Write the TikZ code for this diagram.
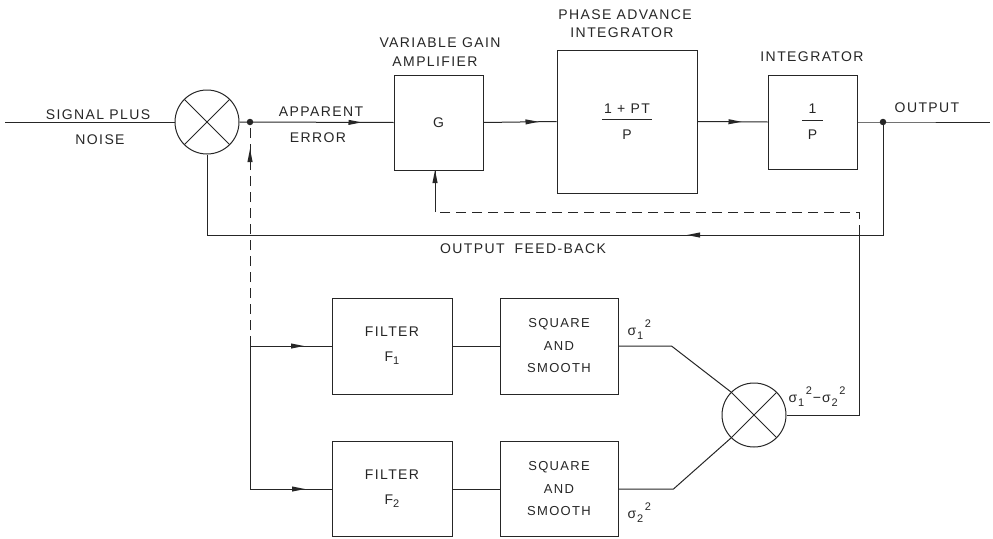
\documentclass[tikz,border=0pt]{standalone}
\usepackage{fontspec}
\setmainfont{Liberation Sans}[LetterSpace=10]
\usetikzlibrary{decorations.markings}
\newcommand\mysig[1]{σ\kern1pt\raisebox{-4pt}{\fontsize{11}{11}\selectfont #1}\kern1.5pt\raisebox{8pt}{\fontsize{11}{11}\selectfont 2}}
\newcommand\myfrac[3]{{\setlength\arrayrulewidth{1pt}\begin{tabular}{@{\hspace{#3}}c@{\hspace{#3}}}#1\\[-1pt]\hline\rule{0pt}{19pt}#2\end{tabular}}}
\begin{document}
\begin{tikzpicture}[x=1pt,y=-1pt,line width=1pt,draw=black!85,
  font=\fontsize{14}{23}\selectfont,
  blk/.style={draw,inner sep=0pt,align=center,text=black!85},
  summer/.style={draw,circle,minimum size=64pt,inner sep=0pt},
  lbl/.style={inner sep=0pt,align=center,text=black!85},
  dot/.style={circle,fill=black!85,inner sep=0pt,minimum size=6.5pt},
  arrowat/.style={postaction={decorate},decoration={markings,mark=at position #1 with {\fill[black!85] (1,0) -- (-12,2.6) -- (-12,-2.6) -- cycle;}}}]
\useasboundingbox (0,0) rectangle (993,538);
% summing junctions
\node[summer] (s1) at (207,122) {};
\draw (s1.45) -- (s1.225) (s1.135) -- (s1.315);
\node[summer] (s2) at (754,415) {};
\draw (s2.45) -- (s2.225) (s2.135) -- (s2.315);
% main blocks
\node[blk,minimum width=89pt,minimum height=95pt] (G) at (438.5,122.5) {G};
\node[blk,minimum width=140pt,minimum height=143pt] (PA) at (627,121.5) {\myfrac{1 + PT}{P}{2pt}};
\node[blk,minimum width=89pt,minimum height=94pt] (INT) at (812.5,122) {\myfrac{1}{P}{6pt}};
% lower blocks
\node[blk,minimum width=120pt,minimum height=96pt,font=\fontsize{14}{25}\selectfont] (F1) at (392,346) {FILTER\\F\raisebox{-3pt}{\fontsize{11}{11}\selectfont 1}};
\node[blk,minimum width=120pt,minimum height=95pt,font=\fontsize{14}{25}\selectfont] (F2) at (392,489) {FILTER\\F\raisebox{-3pt}{\fontsize{11}{11}\selectfont 2}};
\node[blk,minimum width=118pt,minimum height=96pt,font=\fontsize{13}{22.5}\selectfont] (SQ1) at (559,346) {SQUARE\\AND\\SMOOTH};
\node[blk,minimum width=118pt,minimum height=95pt,font=\fontsize{13}{22.5}\selectfont] (SQ2) at (559,489) {SQUARE\\AND\\SMOOTH};
% points
\coordinate (in) at (5,122);
\node[dot] (j1) at (250,122) {};
\node[dot] (out) at (883,122) {};
\coordinate (oe) at (990,122);
\coordinate (br) at (250,346);
\coordinate (k) at (859,235);
\coordinate (d1) at (859,212);
\coordinate (d2) at (435,212);
% main path
\draw (in) -- (s1.west);
\draw[arrowat=121pt] (s1.east) -- (G.west);
\draw[arrowat=54pt] (G.east) -- (PA.west);
\draw[arrowat=43pt] (PA.east) -- (INT.west);
\draw (INT.east) -- (out.center) -- (oe);
% output feedback
\draw[arrowat=308pt] (out.center) |- (s1.south |- k) -- (s1.south);
% error take-off (dashed)
\draw[dashed,dash pattern=on 10pt off 6pt,arrowat=196pt] (br) -- (j1.center);
\draw[arrowat=53pt] (br) -- (F1.west);
\draw[arrowat=197pt] (br) |- (F2.west);
\draw (F1.east) -- (SQ1.west);
\draw (F2.east) -- (SQ2.west);
\draw (SQ1.east) -- ++(53,0) -- (s2.135);
\draw (SQ2.east) -- ++(55,0) -- (s2.225);
\draw (s2.east) -| (k);
\draw[dashed,dash pattern=on 10pt off 6pt] (k) -- (d1) -- (d2);
\draw[arrowat=41pt] (d2) -- (d2 |- G.south);
% labels
\node[lbl] (tSig) at (98,115) {SIGNAL PLUS};
\node[lbl] (tNoise) at (100,140) {NOISE};
\node[lbl] (tApp) at (321,112) {APPARENT};
\node[lbl] (tErr) at (318,138) {ERROR};
\node[lbl] (tVar) at (440,43) {VARIABLE GAIN};
\node[lbl] (tAmp) at (435,62) {AMPLIFIER};
\node[lbl] (tPh) at (625,15) {PHASE ADVANCE};
\node[lbl] (tInt1) at (622,33) {INTEGRATOR};
\node[lbl] (tInt2) at (812,57) {INTEGRATOR};
\node[lbl] (tOut) at (927,108) {OUTPUT};
\node[lbl] (tFb) at (523,249) {OUTPUT\hspace{10pt}FEED-BACK};
\node[lbl,anchor=base west] (tS1) at (627,335) {\mysig{1}};
\node[lbl,anchor=base west] (tS2) at (627,518) {\mysig{2}};
\node[lbl,anchor=base west] (tS12) at (788,402) {\mysig{1}\kern1pt−\kern1pt\mysig{2}};
\end{tikzpicture}
\end{document}
